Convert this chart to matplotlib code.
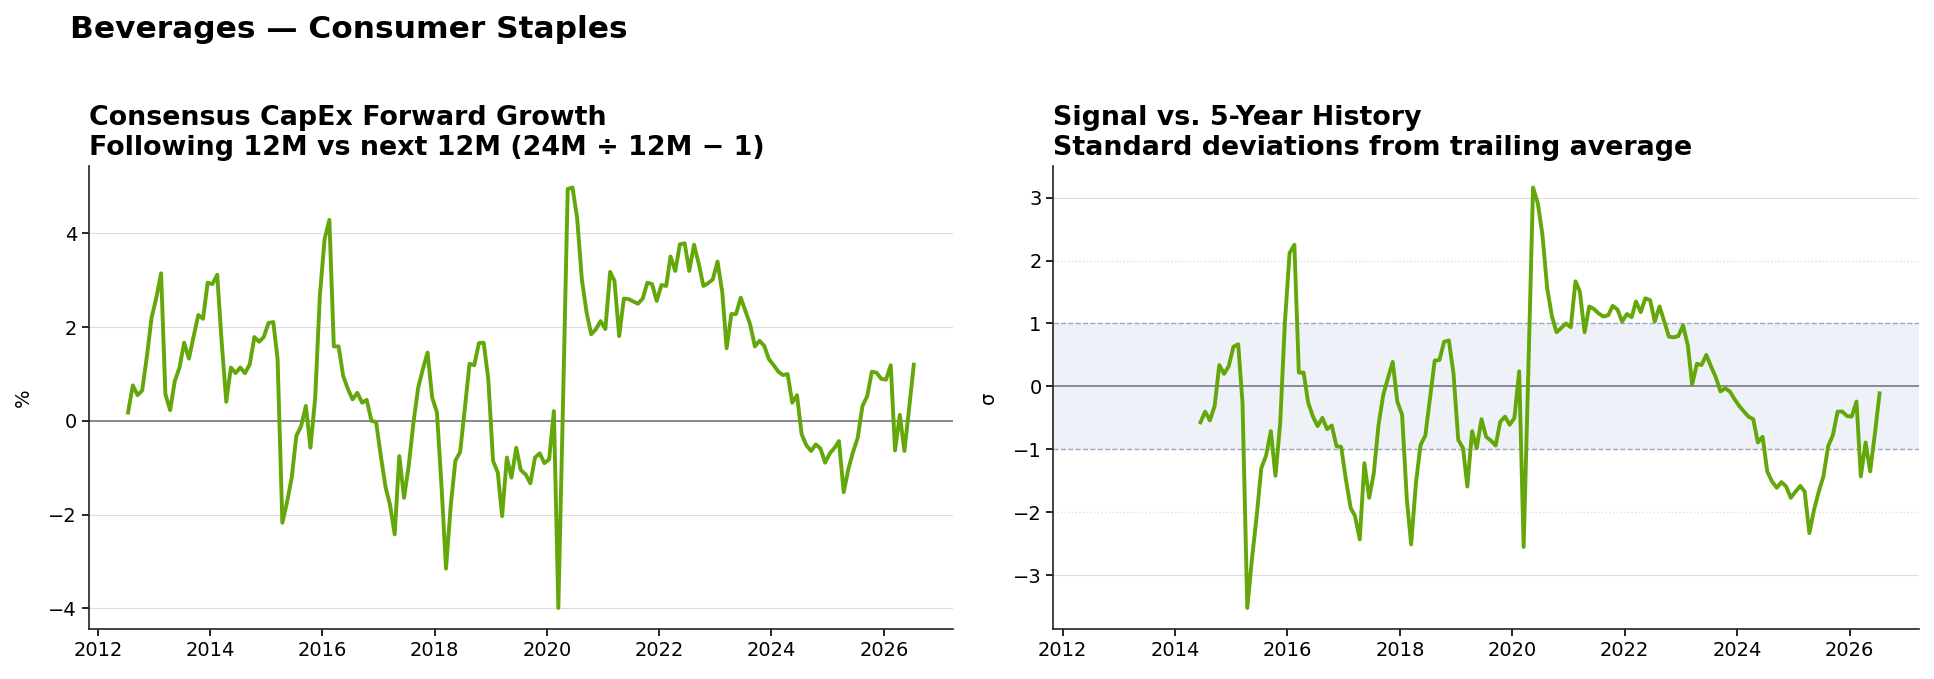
import numpy as np
import pandas as pd
import matplotlib
matplotlib.use("Agg")
import matplotlib.pyplot as plt
import matplotlib.dates as mdates

# monthly capex forward growth (%), Jul 2012 .. Jul 2026
growth = [
    0.18, 0.76, 0.55, 0.65, 1.39, 2.20, 2.63, 3.15, 0.57, 0.23, 0.85, 1.14,
    1.67, 1.33, 1.81, 2.26, 2.18, 2.95, 2.92, 3.12, 1.74, 0.41, 1.14, 1.02,
    1.14, 1.02, 1.21, 1.79, 1.69, 1.79, 2.09, 2.11, 1.32, -2.17, -1.74, -1.21,
    -0.32, -0.11, 0.32, -0.57, 0.50, 2.67, 3.88, 4.29, 1.59, 1.59, 0.96, 0.68,
    0.46, 0.60, 0.39, 0.45, 0.00, -0.02, -0.75, -1.42, -1.78, -2.42, -0.75, -1.64,
    -0.96, -0.04, 0.71, 1.10, 1.46, 0.50, 0.18, -1.46, -3.15, -1.80, -0.85, -0.66,
    0.25, 1.22, 1.19, 1.66, 1.67, 0.90, -0.85, -1.10, -2.03, -0.78, -1.21, -0.57,
    -1.05, -1.14, -1.33, -0.78, -0.69, -0.90, -0.82, 0.21, -3.99, 0.48, 4.95, 4.98,
    4.34, 3.02, 2.31, 1.85, 1.96, 2.13, 1.96, 3.18, 2.99, 1.81, 2.61, 2.60,
    2.55, 2.50, 2.61, 2.95, 2.92, 2.56, 2.90, 2.88, 3.51, 3.20, 3.77, 3.79,
    3.20, 3.76, 3.35, 2.88, 2.94, 3.02, 3.40, 2.74, 1.55, 2.28, 2.28, 2.63,
    2.35, 2.06, 1.59, 1.71, 1.60, 1.32, 1.19, 1.05, 0.98, 1.00, 0.39, 0.55,
    -0.28, -0.52, -0.64, -0.50, -0.59, -0.89, -0.69, -0.57, -0.43, -1.52, -1.03, -0.66,
    -0.36, 0.32, 0.53, 1.05, 1.03, 0.90, 0.88, 1.19, -0.63, 0.13, -0.64, 0.28,
    1.20,
]

# z-score vs trailing 5y history, Jun 2014 .. Jul 2026
zscore = [
    -0.57, -0.40, -0.54, -0.31, 0.34, 0.20, 0.32, 0.63, 0.67, -0.26, -3.52, -2.75,
    -2.06, -1.30, -1.10, -0.71, -1.42, -0.58, 1.00, 2.12, 2.25, 0.22, 0.22, -0.26,
    -0.48, -0.63, -0.50, -0.68, -0.62, -0.95, -0.96, -1.48, -1.93, -2.06, -2.43, -1.22,
    -1.77, -1.38, -0.61, -0.13, 0.13, 0.39, -0.24, -0.45, -1.80, -2.51, -1.53, -0.93,
    -0.78, -0.19, 0.41, 0.42, 0.71, 0.73, 0.21, -0.85, -0.98, -1.59, -0.71, -0.98,
    -0.52, -0.80, -0.86, -0.94, -0.56, -0.48, -0.61, -0.50, 0.24, -2.55, 0.30, 3.16,
    2.91, 2.41, 1.56, 1.11, 0.86, 0.93, 1.00, 0.94, 1.67, 1.51, 0.86, 1.27,
    1.23, 1.16, 1.11, 1.13, 1.28, 1.22, 1.03, 1.15, 1.10, 1.35, 1.18, 1.40,
    1.37, 1.03, 1.27, 1.03, 0.79, 0.78, 0.80, 0.97, 0.65, 0.03, 0.36, 0.34,
    0.50, 0.32, 0.15, -0.08, -0.03, -0.08, -0.20, -0.31, -0.40, -0.48, -0.52, -0.89,
    -0.80, -1.35, -1.51, -1.61, -1.52, -1.59, -1.77, -1.67, -1.58, -1.67, -2.33, -1.96,
    -1.67, -1.43, -0.95, -0.77, -0.40, -0.40, -0.47, -0.48, -0.24, -1.43, -0.89, -1.35,
    -0.74, -0.11,
]

dates = pd.date_range("2012-07-01", periods=len(growth), freq="MS") + pd.Timedelta(days=14)
z_dates = dates[len(growth) - len(zscore):]

GREEN = "#64a70b"
ZERO = "#7c8090"
GRID = "#dcdce6"
BAND = "#eef2f8"
BANDLINE = "#9aa6c0"

fig = plt.figure(figsize=(19.34, 6.79), dpi=100)
ax1 = fig.add_axes([0.0459, 0.0736, 0.4469, 0.6812])
ax2 = fig.add_axes([0.5447, 0.0736, 0.4475, 0.6812], sharex=ax1)

fig.text(0.036, 0.956, "Beverages \u2014 Consumer Staples", fontsize=22.5,
         fontweight="bold", va="center", ha="left")

# left panel
ax1.plot(dates, growth, color=GREEN, lw=2.8, zorder=3)
ax1.axhline(0, color=ZERO, lw=1.3, zorder=2)
ax1.grid(axis="y", color=GRID, lw=0.8)
ax1.set_ylabel("%", fontsize=14, labelpad=11)
ax1.set_title("Consensus CapEx Forward Growth\nFollowing 12M vs next 12M (24M \u00f7 12M \u2212 1)",
              loc="left", fontsize=19.4, fontweight="bold", pad=8)

# right panel
ax2.axhspan(-1, 1, color=BAND, zorder=0, lw=0)
for v in (-1, 1):
    ax2.axhline(v, color=BANDLINE, lw=1.0, ls="--", zorder=1)
for v in (-2, 2):
    ax2.axhline(v, color=GRID, lw=1.0, ls=":", zorder=1)
for v in (-3, 3):
    ax2.axhline(v, color=GRID, lw=0.8, zorder=1)
ax2.axhline(0, color=ZERO, lw=1.3, zorder=2)
ax2.plot(z_dates, zscore, color=GREEN, lw=2.8, zorder=3)
ax2.set_ylabel("\u03c3", fontsize=14, labelpad=11)
ax2.set_title("Signal vs. 5-Year History\nStandard deviations from trailing average",
              loc="left", fontsize=19.4, fontweight="bold", pad=8)

for ax in (ax1, ax2):
    ax.spines["top"].set_visible(False)
    ax.spines["right"].set_visible(False)
    ax.spines["left"].set_color("#222222")
    ax.spines["bottom"].set_color("#222222")
    ax.spines["left"].set_linewidth(1.2)
    ax.spines["bottom"].set_linewidth(1.2)
    ax.tick_params(labelsize=14, width=1.2, length=5)
    ax.set_axisbelow(True)

ax1.xaxis.set_major_locator(mdates.YearLocator(2))
ax1.xaxis.set_major_formatter(mdates.DateFormatter("%Y"))
ax2.set_yticks([-3, -2, -1, 0, 1, 2, 3])

fig.savefig("out.png", dpi=100)
